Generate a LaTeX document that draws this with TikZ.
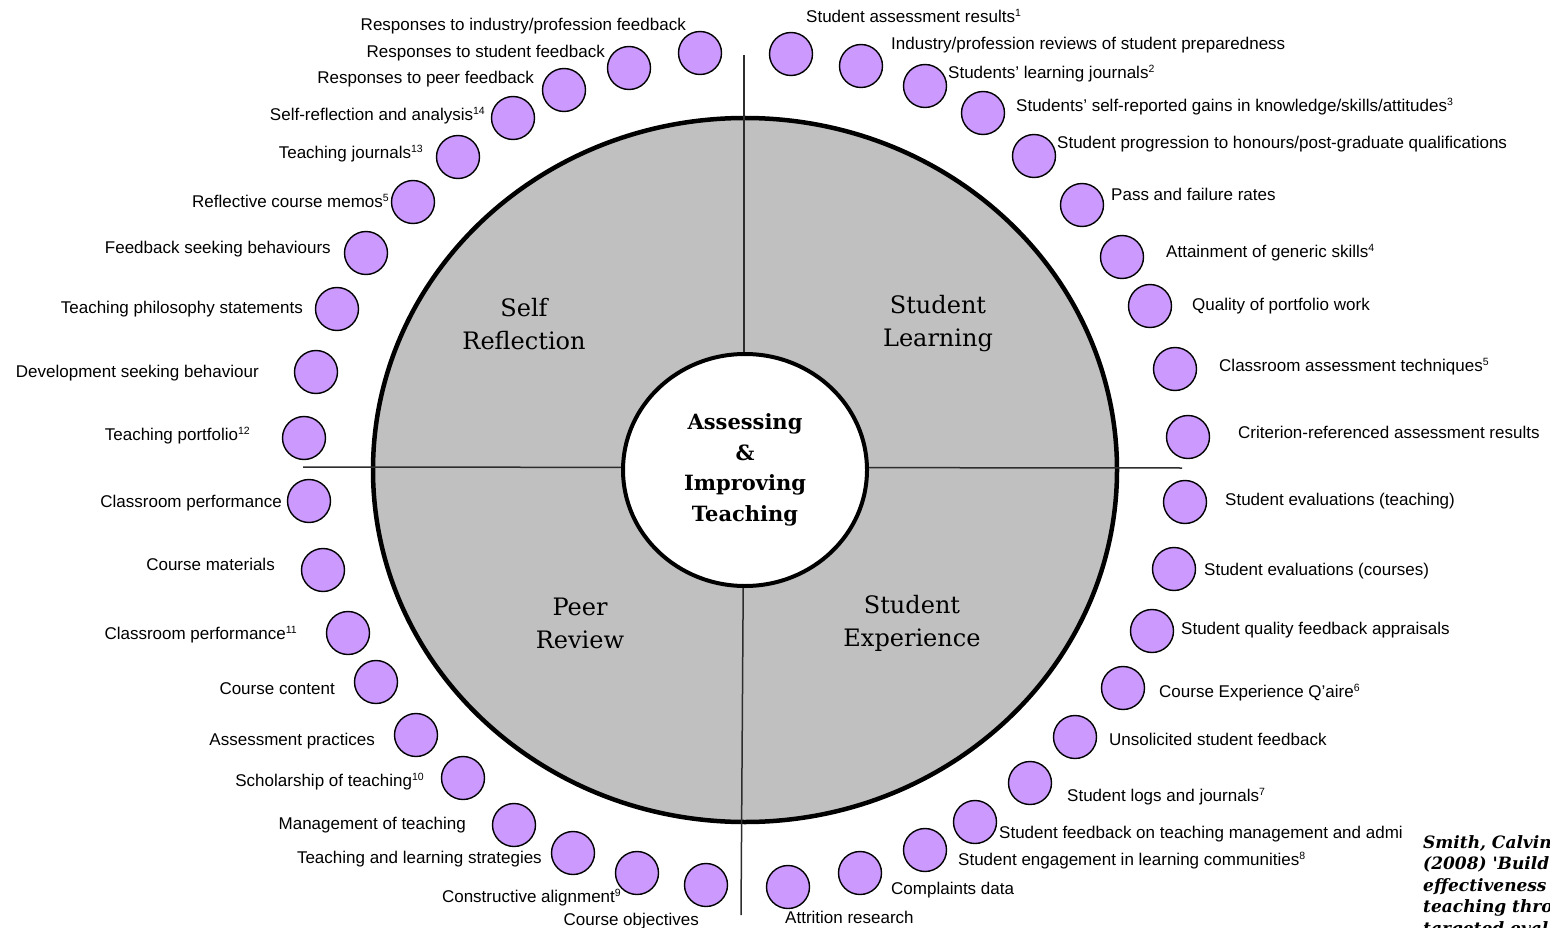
\documentclass[tikz,border=0pt]{standalone}
\usepackage{fontspec}
\setmainfont{Liberation Sans}
\newfontfamily\serf{DejaVu Serif}
\usetikzlibrary{shapes.geometric}
\definecolor{dotfill}{RGB}{204,153,255}
\definecolor{qgray}{RGB}{192,192,192}
\definecolor{divline}{RGB}{45,45,45}
\newcommand{\myfn}[1]{\raisebox{6pt}{\fontsize{10.5}{10.5}\selectfont #1}}
\begin{document}
\begin{tikzpicture}[x=1pt,y=-1pt,
  dot/.style={circle,draw=black,line width=1.4pt,fill=dotfill,minimum size=43pt,inner sep=0pt},
  lab/.style={font=\fontsize{17}{20}\selectfont,inner sep=0pt,text=black},
  labl/.style={lab,anchor=base east},
  labr/.style={lab,anchor=base west},
  quad/.style={font=\serf\fontsize{24}{33}\selectfont,align=center,inner sep=0pt},
  divider/.style={draw=divline,line width=1.5pt},
  citestyle/.style={font=\serf\bfseries\itshape\fontsize{17}{21.5}\selectfont,align=left,inner sep=0pt,anchor=north west}]
\useasboundingbox (0,0) rectangle (1550,928);
\clip (0,0) rectangle (1550,928);
\fill[white] (0,0) rectangle (1550,928);

% main disc
\node[ellipse,fill=qgray,draw=black,line width=4.5pt,minimum width=744pt,minimum height=704pt,inner sep=0pt] (outer) at (745,470) {};

% dividers
\coordinate (vtop) at (744,55);
\coordinate (vbot) at (741,915);
\coordinate (hleft) at (303,467);
\coordinate (hright) at (1182,468);
\draw[divider] (vtop) -- (744,470);
\draw[divider] (744,470) -- (vbot);
\draw[divider] (hleft) -- (hright);

% centre
\node[ellipse,fill=white,draw=black,line width=4pt,minimum width=244pt,minimum height=232pt,inner sep=0pt,
      font=\serf\bfseries\fontsize{21}{30.5}\selectfont,align=center] (inner) at (745,470)
      {Assessing\\\&\\Improving\\Teaching};

% quadrant titles
\node[quad] (qsr) at (524,324) {Self\\Reflection};
\node[quad] (qsl) at (938,324) {Student\\Learning};
\node[quad] (qpr) at (580,623) {Peer\\Review};
\node[quad] (qse) at (912,623) {Student\\Experience};

% left labels
\node[labl] (t1)  at (686,31)  {Responses to industry/profession feedback};
\node[labl] (t2)  at (605,58)  {Responses to student feedback};
\node[labl] (t3)  at (534,84)  {Responses to peer feedback};
\node[labl] (t4)  at (485,121) {Self-reflection and analysis\myfn{14}};
\node[labl] (t5)  at (423,159) {Teaching journals\myfn{13}};
\node[labl] (t6)  at (389,208) {Reflective course memos\myfn{5}};
\node[labl] (t7)  at (331,253) {Feedback seeking behaviours};
\node[labl] (t8)  at (303,313) {Teaching philosophy statements};
\node[labl] (t9)  at (259,377) {Development seeking behaviour};
\node[labl] (t10) at (250,440) {Teaching portfolio\myfn{12}};
\node[labl] (t11) at (282,507) {Classroom performance};
\node[labl] (t12) at (275,570) {Course materials};
\node[labl] (t13) at (297,639) {Classroom performance\myfn{11}};
\node[labl] (t14) at (335,694) {Course content};
\node[labl] (t15) at (375,745) {Assessment practices};
\node[labl] (t16) at (424,786) {Scholarship of teaching\myfn{10}};
\node[labl] (t17) at (466,829) {Management of teaching};
\node[labl] (t18) at (542,863) {Teaching and learning strategies};
\node[labl] (t19) at (621,902) {Constructive alignment\myfn{9}};
\node[labl] (t20) at (699,925) {Course objectives};

% right labels
\node[labr] (t21) at (806,23)  {Student assessment results\myfn{1}};
\node[labr] (t22) at (891,50)  {Industry/profession reviews of student preparedness};
\node[labr] (t23) at (948,79)  {Students' learning journals\myfn{2}};
\node[labr] (t24) at (1016,112) {Students' self-reported gains in knowledge/skills/attitudes\myfn{3}};
\node[labr] (t25) at (1057,149) {Student progression to honours/post-graduate qualifications};
\node[labr] (t26) at (1111,201) {Pass and failure rates};
\node[labr] (t27) at (1166,258) {Attainment of generic skills\myfn{4}};
\node[labr] (t28) at (1192,310) {Quality of portfolio work};
\node[labr] (t29) at (1219,371) {Classroom assessment techniques\myfn{5}};
\node[labr] (t30) at (1238,438) {Criterion-referenced assessment results};
\node[labr] (t31) at (1225,505) {Student evaluations (teaching)};
\node[labr] (t32) at (1204,575) {Student evaluations (courses)};
\node[labr] (t33) at (1181,634) {Student quality feedback appraisals};
\node[labr] (t34) at (1159,697) {Course Experience Q'aire\myfn{6}};
\node[labr] (t35) at (1109,745) {Unsolicited student feedback};
\node[labr] (t36) at (1067,801) {Student logs and journals\myfn{7}};
\node[labr] (t37) at (999,838)  {Student feedback on teaching management and admi};
\node[labr] (t38) at (958,865)  {Student engagement in learning communities\myfn{8}};
\node[labr] (t39) at (891,894)  {Complaints data};
\node[labr] (t40) at (785,923)  {Attrition research};

% dots left
\node[dot] (d1)  at (700,53)  {};
\node[dot] (d2)  at (629,68)  {};
\node[dot] (d3)  at (564,90)  {};
\node[dot] (d4)  at (513,118) {};
\node[dot] (d5)  at (458,157) {};
\node[dot] (d6)  at (413,202) {};
\node[dot] (d7)  at (366,253) {};
\node[dot] (d8)  at (337,309) {};
\node[dot] (d9)  at (316,372) {};
\node[dot] (d10) at (304,438) {};
\node[dot] (d11) at (309,501) {};
\node[dot] (d12) at (323,570) {};
\node[dot] (d13) at (348,633) {};
\node[dot] (d14) at (376,682) {};
\node[dot] (d15) at (416,735) {};
\node[dot] (d16) at (463,778) {};
\node[dot] (d17) at (514,825) {};
\node[dot] (d18) at (573,853) {};
\node[dot] (d19) at (637,873) {};
\node[dot] (d20) at (706,885) {};

% dots right
\node[dot] (d21) at (791,54)  {};
\node[dot] (d22) at (861,66)  {};
\node[dot] (d23) at (925,86)  {};
\node[dot] (d24) at (983,113) {};
\node[dot] (d25) at (1034,156) {};
\node[dot] (d26) at (1082,205) {};
\node[dot] (d27) at (1122,257) {};
\node[dot] (d28) at (1150,306) {};
\node[dot] (d29) at (1175,369) {};
\node[dot] (d30) at (1188,437) {};
\node[dot] (d31) at (1185,502) {};
\node[dot] (d32) at (1174,569) {};
\node[dot] (d33) at (1152,631) {};
\node[dot] (d34) at (1123,688) {};
\node[dot] (d35) at (1075,737) {};
\node[dot] (d36) at (1030,783) {};
\node[dot] (d37) at (975,822) {};
\node[dot] (d38) at (925,850) {};
\node[dot] (d39) at (860,873) {};
\node[dot] (d40) at (788,887) {};

% citation (cut off at the page edge, as in the reference)
\node[citestyle] (cite) at (1423,835) {Smith, Calvin\\(2008) 'Build\\effectiveness\\teaching thro\\targeted eval};
\end{tikzpicture}
\end{document}
